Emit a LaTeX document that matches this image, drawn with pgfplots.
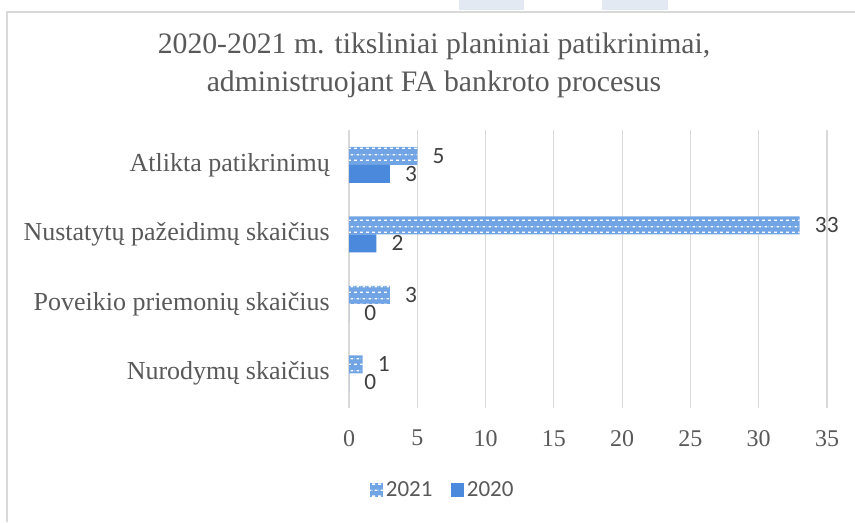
\documentclass[border=0pt]{standalone}
\usepackage{pgfplots}
\pgfplotsset{compat=1.18}
\usepackage{fontspec}
\setmainfont{Liberation Serif}
\newfontfamily\calibri{Carlito}
\usetikzlibrary{patterns}
\definecolor{txt}{HTML}{595959}
\definecolor{dlab}{HTML}{404040}
\definecolor{grd}{HTML}{D9D9D9}
\definecolor{cA}{HTML}{70A4E4}
\definecolor{cB}{HTML}{4A89DC}
\definecolor{wm}{HTML}{E3E9F2}
\pgfdeclarepatternformonly{wdash}{\pgfqpoint{0pt}{0pt}}{\pgfqpoint{4.5pt}{9pt}}{\pgfqpoint{4.5pt}{9pt}}{%
  \pgfpathrectangle{\pgfqpoint{0pt}{1.75pt}}{\pgfqpoint{2.5pt}{1pt}}%
  \pgfpathrectangle{\pgfqpoint{2.25pt}{6.25pt}}{\pgfqpoint{2.25pt}{1pt}}%
  \pgfpathrectangle{\pgfqpoint{0pt}{6.25pt}}{\pgfqpoint{0.25pt}{1pt}}%
  \pgfusepath{fill}}
\begin{document}
\begin{tikzpicture}
\useasboundingbox (0,0) rectangle (641.25pt,391.5pt);
\fill[wm] (344.25pt,391.5pt) rectangle (393pt,384pt);
\fill[wm] (451.5pt,391.5pt) rectangle (501pt,384pt);
\draw[grd, line width=1.1pt] (5.25pt,0) -- (5.25pt,382.5pt) -- (641.25pt,382.5pt);
\node[txt, align=center, inner sep=0pt, font=\fontsize{22.3}{28.5}\selectfont] at (325.5pt,342.75pt)
  {2020-2021 m. tiksliniai planiniai patikrinimai,\\administruojant FA bankroto procesus};
\begin{axis}[
  at={(261.75pt,85.5pt)}, anchor=south west,
  scale only axis, width=358.5pt, height=208.5pt,
  xmin=0, xmax=35, ymin=-0.5, ymax=3.5,
  y dir=reverse,
  xtick={0,5,...,35},
  ytick={0,1,2,3},
  yticklabels={Atlikta patikrinimų, Nustatytų pažeidimų skaičius, Poveikio priemonių skaičius, Nurodymų skaičius},
  xmajorgrids, grid style={grd, line width=0.9pt},
  axis line style={draw=none},
  major tick length=0pt,
  /pgf/number format/assume math mode=true,
  xticklabel style={txt, font=\fontsize{18}{18}\selectfont, anchor=north, inner sep=0pt, yshift=-16.5pt},
  yticklabel style={txt, font=\fontsize{19.5}{19.5}\selectfont, anchor=east, inner sep=0pt, xshift=-14.25pt},
  xbar, bar width=13.5pt,
  nodes near coords,
  every node near coord/.append style={dlab, font=\calibri\fontsize{17.5}{17.5}\selectfont, anchor=west, inner sep=0pt, xshift=11.25pt},
  legend columns=2,
  legend style={at={(0.197,-0.295)}, anchor=center, draw=none, fill=none,
    font=\calibri\fontsize{17.25}{17.25}\selectfont, text=txt,
    /tikz/every even column/.append style={column sep=12pt},
    inner sep=0pt},
  legend image code/.code={\fill[#1] (0pt,-4.9pt) rectangle (9.8pt,4.9pt);},
]
\addplot[draw=none, fill=cA, postaction={pattern=wdash, pattern color=white}, bar shift=6.75pt]
  coordinates {(5,0) (33,1) (3,2) (1,3)};
\addlegendentry{2021}
\addplot[draw=none, fill=cB, bar shift=-6.75pt]
  coordinates {(3,0) (2,1) (0,2) (0,3)};
\addlegendentry{2020}
\end{axis}
\end{tikzpicture}
\end{document}
